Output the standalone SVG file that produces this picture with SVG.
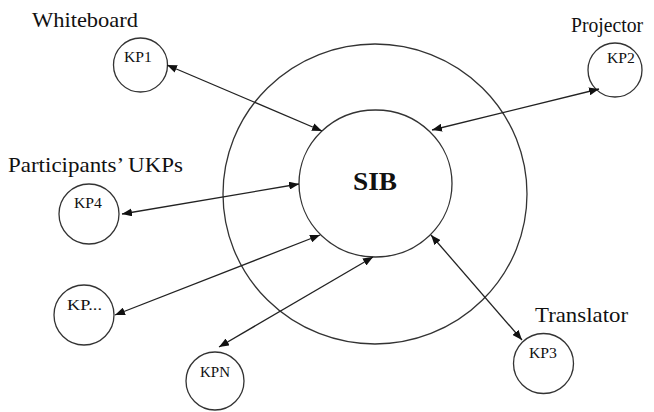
<svg xmlns="http://www.w3.org/2000/svg" width="654" height="412" viewBox="0 0 654 412">
<defs>
<marker id="ah" viewBox="0 0 10 8" refX="10" refY="4" markerWidth="10" markerHeight="8" markerUnits="userSpaceOnUse" orient="auto-start-reverse">
<path d="M0,0 L10,4 L0,8 z" fill="#111"/>
</marker>
<style>
.c{fill:none;stroke:#333;stroke-width:1.3}
.e{fill:none;stroke:#222;stroke-width:1.3;marker-start:url(#ah);marker-end:url(#ah)}
text{font-family:'Liberation Serif',serif;fill:#111}
.lbl{font-size:21px}
.kp{font-size:15px}
.sib{font-size:26px;font-weight:bold}
</style>
</defs>
<rect width="654" height="412" fill="#fff"/>
<g id="outer"><ellipse class="c" cx="375" cy="194" rx="152" ry="150"/></g>
<g id="sib"><ellipse class="c" cx="375.5" cy="183.5" rx="76.5" ry="73.5"/><text class="sib" x="353" y="190" textLength="44" lengthAdjust="spacingAndGlyphs">SIB</text></g>
<g id="kp1"><circle class="c" cx="140.5" cy="65" r="27"/><text class="kp" x="124" y="62" textLength="28" lengthAdjust="spacingAndGlyphs">KP1</text></g>
<g id="kp2"><circle class="c" cx="615" cy="70" r="27"/><text class="kp" x="607" y="63" textLength="28" lengthAdjust="spacingAndGlyphs">KP2</text></g>
<g id="kp4"><circle class="c" cx="89" cy="214" r="30"/><text class="kp" x="74" y="208" textLength="28" lengthAdjust="spacingAndGlyphs">KP4</text></g>
<g id="kpdots"><circle class="c" cx="84" cy="315" r="30"/><text class="kp" x="67" y="310" textLength="35" lengthAdjust="spacingAndGlyphs">KP...</text></g>
<g id="kpn"><circle class="c" cx="215" cy="381" r="29"/><text class="kp" x="200" y="377" textLength="30" lengthAdjust="spacingAndGlyphs">KPN</text></g>
<g id="kp3"><circle class="c" cx="543.5" cy="363.5" r="30"/><text class="kp" x="529" y="358" textLength="28" lengthAdjust="spacingAndGlyphs">KP3</text></g>
<g id="labels">
<text class="lbl" x="32" y="27" textLength="106" lengthAdjust="spacingAndGlyphs">Whiteboard</text>
<text class="lbl" x="571" y="32" textLength="72" lengthAdjust="spacingAndGlyphs">Projector</text>
<text class="lbl" x="8" y="172" textLength="175" lengthAdjust="spacingAndGlyphs">Participants’ UKPs</text>
<text class="lbl" x="535" y="322" textLength="93" lengthAdjust="spacingAndGlyphs">Translator</text>
</g>
<g id="connectors">
<line class="e" x1="167" y1="65" x2="322" y2="131"/>
<line class="e" x1="599" y1="89" x2="432" y2="130"/>
<line class="e" x1="122" y1="214" x2="299" y2="184"/>
<line class="e" x1="115" y1="315" x2="320" y2="235"/>
<line class="e" x1="219" y1="347" x2="373" y2="257"/>
<line class="e" x1="522" y1="340" x2="431" y2="235"/>
</g>
</svg>
